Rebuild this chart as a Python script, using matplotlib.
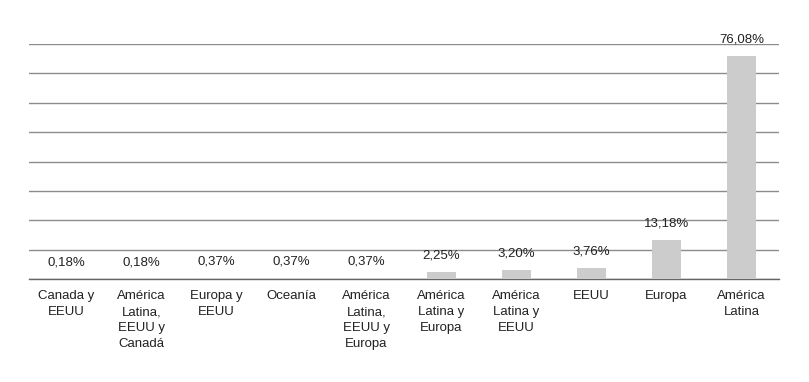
import matplotlib
matplotlib.use("Agg")
import matplotlib.pyplot as plt

plt.rcParams['font.family'] = ['Liberation Sans', 'DejaVu Sans']

categories = ["Canada y\nEEUU", "América\nLatina,\nEEUU y\nCanadá", "Europa y\nEEUU", "Oceanía",
              "América\nLatina,\nEEUU y\nEuropa", "América\nLatina y\nEuropa", "América\nLatina y\nEEUU",
              "EEUU", "Europa", "América\nLatina"]
values = [0.18, 0.18, 0.37, 0.37, 0.37, 2.25, 3.20, 3.76, 13.18, 76.08]
labels = ["0,18%", "0,18%", "0,37%", "0,37%", "0,37%", "2,25%", "3,20%", "3,76%", "13,18%", "76,08%"]

fig = plt.figure(figsize=(8.09, 3.82), dpi=100)
ax = fig.add_axes([29 / 809, 103 / 382, 750 / 809, 235 / 382])

x = range(len(categories))
bars = ax.bar(x, values, width=0.39, color='#cccccc', zorder=3)

for b, lab in zip(bars, labels):
    ax.annotate(lab, (b.get_x() + b.get_width() / 2, b.get_height()),
                xytext=(0, 7.5), textcoords='offset points',
                ha='center', va='bottom', fontsize=9.5, color='#222222')

ax.set_xlim(-0.5, len(categories) - 0.5)
ax.set_ylim(0, 80)
ax.set_yticks(range(0, 81, 10))
ax.yaxis.grid(True, color='#8c8c8c', linewidth=1, zorder=0)
ax.tick_params(axis='y', left=False, labelleft=False)
ax.set_xticks(list(x))
ax.set_xticklabels(categories, fontsize=9.5, color='#222222', linespacing=1.45)
ax.tick_params(axis='x', length=0, pad=8)

for s in ['top', 'left', 'right']:
    ax.spines[s].set_visible(False)
ax.spines['bottom'].set_color('#666666')
ax.spines['bottom'].set_linewidth(1)

fig.savefig("out.png", dpi=100)
